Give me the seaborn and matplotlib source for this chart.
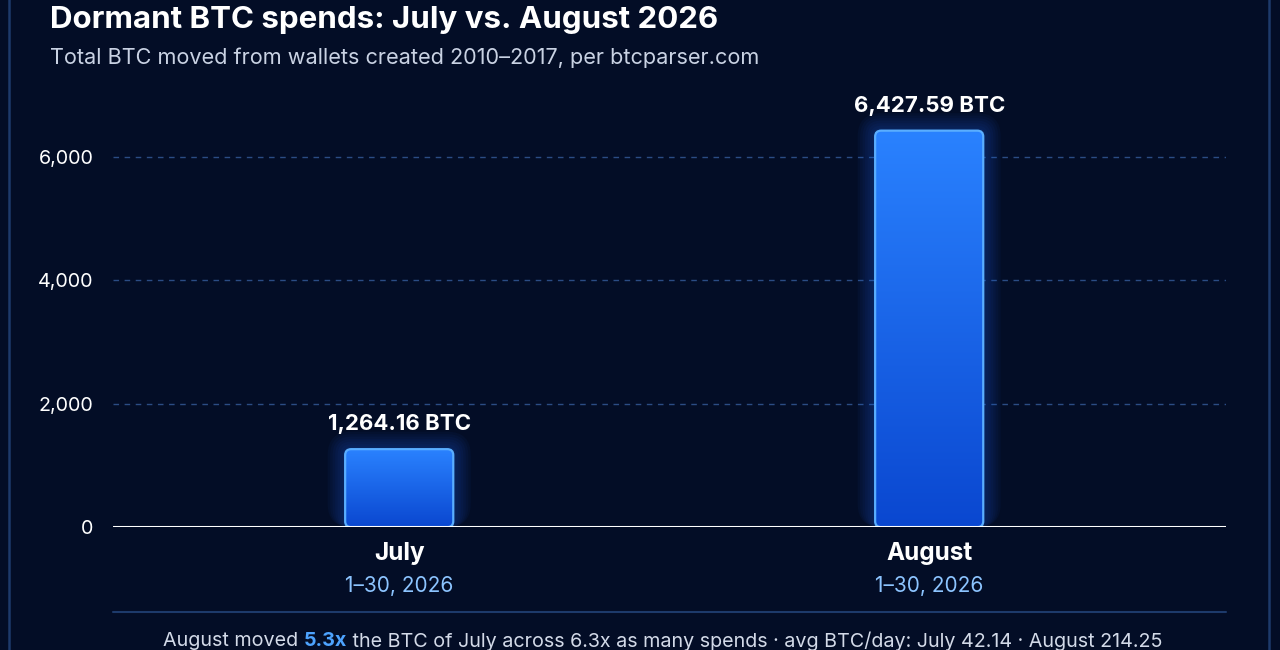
import matplotlib
matplotlib.use("Agg")
import matplotlib.pyplot as plt
import matplotlib.patches as mpatches
from matplotlib.colors import LinearSegmentedColormap
import seaborn as sns
import numpy as np
import pandas as pd

# data
months = ["July", "August"]
date_ranges = ["1–30, 2026", "1–30, 2026"]
btc_moved = [1264.16, 6427.59]
btc_per_day = [42.14, 214.25]
btc_ratio = "5.3x"
spend_ratio = "6.3x"
y_ticks = [0, 2000, 4000, 6000]

BG = "#030d26"
GRID = "#2b4c84"
BORDER = "#1d3a6b"

sns.set_theme(style="dark")
plt.rcParams["font.family"] = ["Inter", "DejaVu Sans"]

fig = plt.figure(figsize=(12.8, 6.5), dpi=100, facecolor=BG)
ax = fig.add_axes([0.0883, 0.189, 0.8695, 0.671])
ax.set_facecolor(BG)

df = pd.DataFrame({"month": months, "btc": btc_moved})
sns.barplot(data=df, x="month", y="btc", ax=ax, width=0.204, color="#1f6bff",
            saturation=1, zorder=3)

ax.set_xlim(-0.54, 1.56)
ax.set_ylim(0, max(btc_moved) * 1.1)

# rounded gradient bars with glow
fig.canvas.draw()
bbox = ax.get_window_extent()
px_x = bbox.width / (ax.get_xlim()[1] - ax.get_xlim()[0])
px_y = bbox.height / (ax.get_ylim()[1] - ax.get_ylim()[0])
aspect = px_x / px_y
rs = 6 / px_x
cmap = LinearSegmentedColormap.from_list("bar", ["#0a47d0", "#2a82ff"])
grad = np.linspace(0, 1, 256).reshape(-1, 1)

for p in list(ax.patches):
    x0, w, h = p.get_x(), p.get_width(), p.get_height()
    p.set_visible(False)
    for k in range(1, 8):
        g = k * 2.5 / px_x
        glow = mpatches.FancyBboxPatch((x0 - g, 0), w + 2 * g, h + g * aspect,
                                       boxstyle=f"round,pad=0,rounding_size={rs + g}",
                                       mutation_aspect=aspect, fc="#1f6bff",
                                       ec="none", alpha=0.045, zorder=2)
        ax.add_patch(glow)
    shape = mpatches.FancyBboxPatch((x0, 0), w, h,
                                    boxstyle=f"round,pad=0,rounding_size={rs}",
                                    mutation_aspect=aspect, fc="none",
                                    ec="#5aaeff", lw=1.6, zorder=5)
    ax.add_patch(shape)
    im = ax.imshow(grad, extent=[x0, x0 + w, 0, h], origin="lower", cmap=cmap,
                   aspect="auto", zorder=4)
    im.set_clip_path(shape)
    ax.annotate(f"{h:,.2f} BTC", (x0 + w / 2, h), xytext=(0, 18),
                textcoords="offset points", ha="center", va="center",
                color="white", fontsize=16, fontweight="bold", zorder=6)

ax.set_aspect("auto")
ax.set_xlim(-0.54, 1.56)
ax.set_ylim(0, max(btc_moved) * 1.1)

ax.set_yticks(y_ticks)
ax.set_yticklabels([f"{v:,}" for v in y_ticks], color="white", fontsize=14.2)
for v in y_ticks[1:]:
    ax.axhline(v, color=GRID, lw=1, ls=(0, (4, 4)), zorder=1)
ax.axhline(0, color="white", lw=2.2, zorder=7)

ax.set_xticks(range(len(months)))
ax.set_xticklabels(months, color="white", fontsize=17.5, fontweight="bold")
ax.tick_params(axis="x", length=0, pad=11)
ax.tick_params(axis="y", length=0, pad=14)
for i, d in enumerate(date_ranges):
    ax.text(i, -0.134, d, transform=ax.get_xaxis_transform(), ha="center",
            va="center", color="#8cc4ff", fontsize=15)

ax.set_xlabel("")
ax.set_ylabel("")
ax.grid(False)
for s in ax.spines.values():
    s.set_visible(False)

# card border
fig.patches.append(mpatches.Rectangle((9 / 1280, -0.05), 1260 / 1280, 1.1,
                                      transform=fig.transFigure, fill=False,
                                      ec=BORDER, lw=1.8, zorder=0))

fig.text(50 / 1280, 1 - 20 / 650, "Dormant BTC spends: July vs. August 2026",
         color="white", fontsize=22.5, fontweight="bold", va="center", ha="left")
fig.text(50 / 1280, 1 - 58 / 650,
         "Total BTC moved from wallets created 2010–2017, per btcparser.com",
         color="#c9d2e3", fontsize=15.6, va="center", ha="left")

# separator and footer
fig.add_artist(plt.Line2D([113 / 1280, 1226 / 1280], [1 - 612 / 650] * 2,
                          color=BORDER, lw=1.5, transform=fig.transFigure))

parts = [("August moved ", "#d3dae8", "normal"),
         (btc_ratio, "#4da3ff", "bold"),
         (f" the BTC of July across {spend_ratio} as many spends · avg BTC/day: "
          f"July {btc_per_day[0]:.2f} · August {btc_per_day[1]:.2f}",
          "#d3dae8", "normal")]
r = fig.canvas.get_renderer()
texts = []
for s, c, wt in parts:
    t = fig.text(0, 1 - 641 / 650, s, color=c, fontsize=14.2, fontweight=wt,
                 va="center", ha="left")
    texts.append(t)
widths = [t.get_window_extent(r).width for t in texts]
x = 663 - sum(widths) / 2
for t, w in zip(texts, widths):
    t.set_x(x / 1280)
    x += w

fig.savefig("out.png", dpi=100, facecolor=BG)
